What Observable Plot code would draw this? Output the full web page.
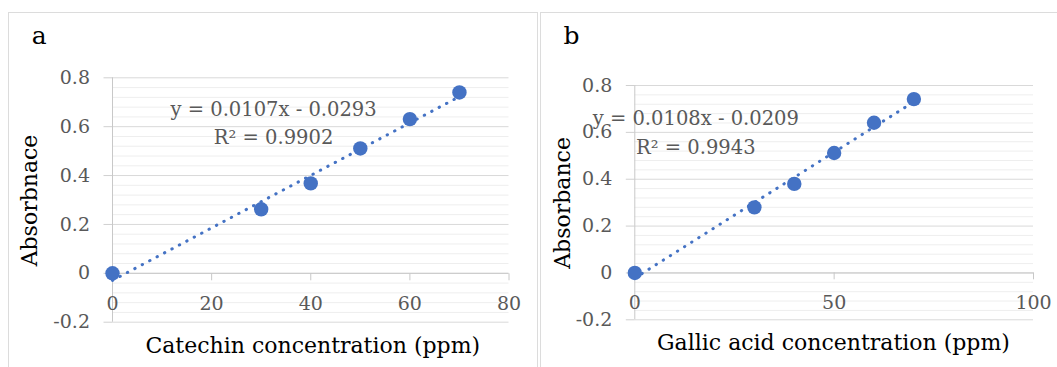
<!DOCTYPE html>
<html>
<head>
<meta charset="utf-8">
<script src="https://cdn.jsdelivr.net/npm/d3@7"></script>
<script src="https://cdn.jsdelivr.net/npm/@observablehq/plot@0.6"></script>
<style>
  html, body { margin: 0; padding: 0; background: #fff; }
  #root { position: relative; width: 1057px; height: 367px; overflow: hidden; }
  .border { position: absolute; border: 1.5px solid #dcdcdc; box-sizing: border-box; }
  .panel { position: absolute; top: 0; }
</style>
</head>
<body>
<div id="root">
  <div class="border" style="left:8px; top:12px; width:530px; height:420px;"></div>
  <div class="border" style="left:540px; top:12px; width:600px; height:420px;"></div>
  <div class="panel" id="pa" style="left:0px;"></div>
  <div class="panel" id="pb" style="left:541px;"></div>
</div>
<script>
// ---- data ----
const concA = [0, 30, 40, 50, 60, 70];
const absA  = [0, 0.262, 0.368, 0.511, 0.631, 0.740];
const concB = [0, 30, 40, 50, 60, 70];
const absB  = [0, 0.280, 0.380, 0.512, 0.641, 0.742];

const xTicksA = [0, 20, 40, 60, 80];
const xTicksB = [0, 50, 100];
const yTicks  = [-0.2, 0, 0.2, 0.4, 0.6, 0.8];

const eqA = ["y = 0.0107x - 0.0293", "R² = 0.9902"];
const eqB = ["y = 0.0108x - 0.0209", "R² = 0.9943"];

const panelLetters = ["a", "b"];
const xTitles = ["Catechin concentration (ppm)", "Gallic acid concentration (ppm)"];
const yTitles = ["Absorbnace", "Absorbance"];

// ---- styles ----
const blue = "#4472C4";
const gray = "#595959";
const font = "DejaVu Serif";
const minorTicks = d3.range(-0.2, 0.8001, 0.04)
  .map(v => Math.round(v * 100) / 100)
  .filter(v => !yTicks.some(t => Math.abs(t - v) < 1e-9));

function panel(o) {
  const data = o.conc.map((x, i) => ({x, y: o.abs[i]}));
  return Plot.plot({
    width: o.width, height: 367,
    marginLeft: o.ml, marginRight: o.mr, marginTop: o.mt, marginBottom: o.mb,
    x: {domain: o.xDomain, label: null},
    y: {domain: [-0.2, 0.8], label: null},
    style: {fontFamily: font, background: "transparent", fontSize: "19px"},
    marks: [
      Plot.gridY(minorTicks, {stroke: "#eeeeee", strokeOpacity: 1}),
      Plot.gridY(yTicks, {stroke: "#d9d9d9", strokeOpacity: 1}),
      Plot.ruleX([0], {stroke: "#c8c8c8"}),
      Plot.ruleY([0], {stroke: "#c8c8c8"}),
      Plot.axisY(yTicks, {anchor: "left", tickSize: 8.5, tickPadding: 14, stroke: "#d0d0d0", fill: gray,
        fontSize: 19, label: null, tickFormat: d => String(d)}),
      Plot.axisX(o.xTicks, {anchor: "bottom", dy: -o.axisShift, tickSize: 7, tickPadding: 16,
        stroke: "#c8c8c8", fill: gray, fontSize: 19, label: null, tickFormat: d => String(d)}),
      Plot.linearRegressionY(data, {x: "x", y: "y", ci: 0, stroke: blue, strokeWidth: 3,
        strokeDasharray: "0.4 8", strokeLinecap: "round"}),
      Plot.dot(data, {x: "x", y: "y", r: 7.2, fill: blue, stroke: "none"}),
      Plot.text([o.eq[0]], {x: () => o.eqX, y: () => o.eqY[0], fill: gray, fontSize: 19.5}),
      Plot.text([o.eq[1]], {x: () => o.eqX, y: () => o.eqY[1], fill: gray, fontSize: 19.5}),
      Plot.text([o.letter], {frameAnchor: "top-left", dx: o.letterDx, dy: o.letterDy, fontSize: 25, fill: "#000",
        textAnchor: "middle", lineAnchor: "middle"}),
      Plot.text([o.xTitle], {frameAnchor: "bottom", dx: o.xtDx, dy: o.xtDy, fontSize: 22, fill: "#000",
        textAnchor: "middle", lineAnchor: "middle"}),
      Plot.text([o.yTitle], {frameAnchor: "left", rotate: -90, dx: o.ytDx, dy: o.ytDy, fontSize: 22, fill: "#000",
        textAnchor: "middle", lineAnchor: "middle"})
    ]
  });
}

document.getElementById("pa").appendChild(panel({
  conc: concA, abs: absA, xDomain: [0, 80], xTicks: xTicksA,
  width: 537, ml: 112, mr: 28.5, mt: 77.3, mb: 45.3, axisShift: 48.4,
  eq: eqA, eqX: 32.5, eqY: [0.668, 0.553],
  letter: panelLetters[0], letterDx: -73.3, letterDy: -42,
  xTitle: xTitles[0], xtDx: 2, xtDy: 24,
  yTitle: yTitles[0], ytDx: -82.5, ytDy: 0.5
}));

document.getElementById("pb").appendChild(panel({
  conc: concB, abs: absB, xDomain: [0, 100], xTicks: xTicksB,
  width: 516, ml: 93.3, mr: 24, mt: 85, mb: 47.7, axisShift: 47,
  eq: eqB, eqX: 15.3, eqY: [0.658, 0.534],
  letter: panelLetters[1], letterDx: -63.3, letterDy: -49.7,
  xTitle: xTitles[1], xtDx: -0.7, xtDy: 22.7,
  yTitle: yTitles[1], ytDx: -72.3, ytDy: 0.3
}));
</script>
</body>
</html>
